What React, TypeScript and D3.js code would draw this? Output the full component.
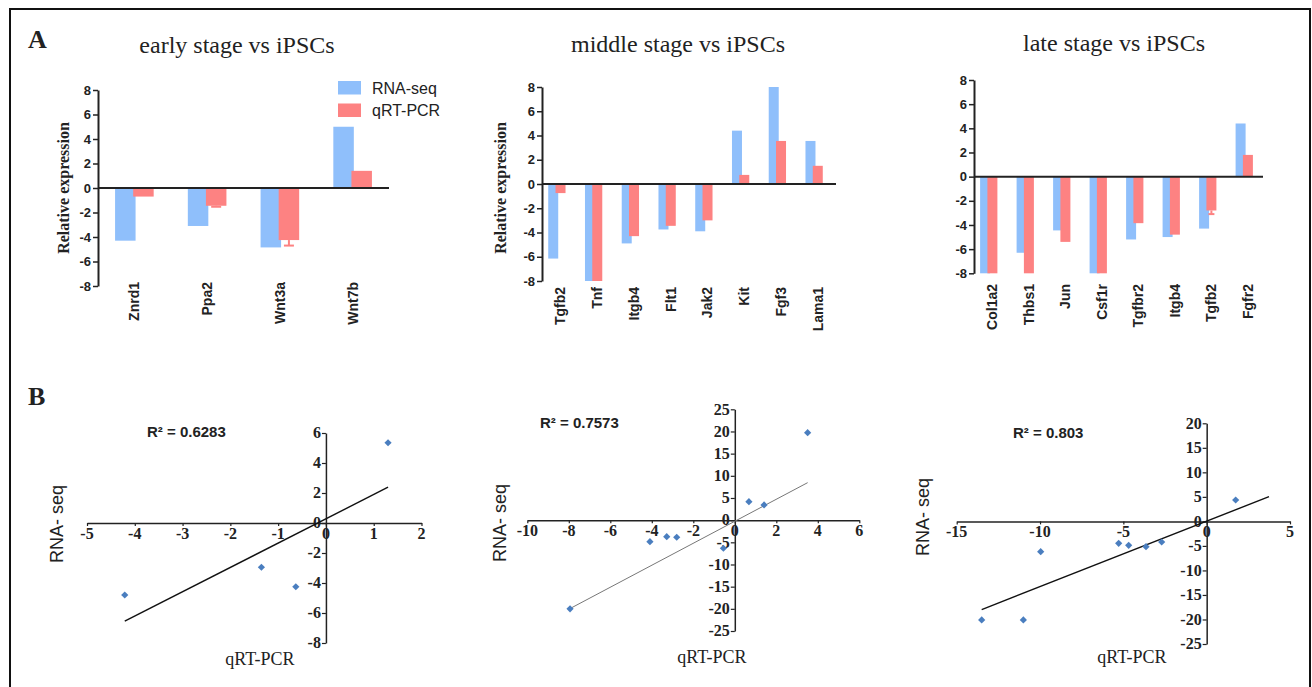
import React, { useEffect, useRef } from 'react';
import * as d3 from 'd3';

const SERIF = '"Liberation Serif", "Times New Roman", serif';
const SANS = '"Liberation Sans", Arial, sans-serif';
const BLUE = '#8fbffb';
const RED = '#fd8282';
const DOT = '#4a7ebf';

// ---- panel A : relative expression (bars clipped at +-8) ----
const earlyGenes = ['Znrd1', 'Ppa2', 'Wnt3a', 'Wnt7b'];
const earlyRna = [-4.3, -3.1, -4.85, 5.0];
const earlyQpcr = [-0.7, -1.45, -4.25, 1.4];
const earlyErr = [0, 0.08, 0.45, 0];

const middleGenes = ['Tgfb2', 'Tnf', 'Itgb4', 'Flt1', 'Jak2', 'Kit', 'Fgf3', 'Lama1'];
const middleRna = [-6.15, -8, -4.9, -3.75, -3.9, 4.4, 8, 3.55];
const middleQpcr = [-0.75, -8, -4.3, -3.45, -3.0, 0.75, 3.55, 1.5];
const middleErr = [0, 0, 0, 0, 0, 0, 0, 0];

const lateGenes = ['Col1a2', 'Thbs1', 'Jun', 'Csf1r', 'Tgfbr2', 'Itgb4', 'Tgfb2', 'Fgfr2'];
const lateRna = [-8, -6.3, -4.45, -8, -5.2, -5.0, -4.3, 4.4];
const lateQpcr = [-8, -8, -5.4, -8, -3.85, -4.8, -2.8, 1.8];
const lateErr = [0, 0, 0, 0, 0, 0, 0.3, 0];

const yTicksA = [8, 6, 4, 2, 0, -2, -4, -6, -8];
const seriesNames = ['RNA-seq', 'qRT-PCR'];

// ---- panel B : qRT-PCR (x) vs RNA-seq (y) ----
const earlyPcrX = [-4.21, -1.35, -0.63, 1.3];
const earlySeqY = [-4.8, -2.95, -4.25, 5.35];
const earlyFit = { slope: 1.62, intercept: 0.28, r2: '0.6283' };
const earlyXTicks = [-5, -4, -3, -2, -1, 0, 1, 2];
const earlyYTicks = [6, 4, 2, 0, -2, -4, -6, -8];

const middlePcrX = [-7.94, -4.09, -3.28, -2.8, -0.55, 0.68, 1.41, 3.51];
const middleSeqY = [-20.0, -4.85, -3.72, -3.86, -6.34, 4.17, 3.43, 19.73];
const middleFit = { slope: 2.48, intercept: -0.25, r2: '0.7573' };
const middleXTicks = [-10, -8, -6, -4, -2, 0, 2, 4, 6];
const middleYTicks = [25, 20, 15, 10, 5, 0, -5, -10, -15, -20, -25];

const latePcrX = [-13.5, -11.0, -9.96, -5.28, -4.68, -3.64, -2.7, 1.74];
const lateSeqY = [-20.1, -20.1, -6.18, -4.47, -4.87, -5.16, -4.2, 4.36];
const lateFit = { slope: 1.335, intercept: 0.05, r2: '0.803', xEnd: 3.74 };
const lateXTicks = [-15, -10, -5, 0, 5];
const lateYTicks = [20, 15, 10, 5, 0, -5, -10, -15, -20, -25];

const font = (sel, family, size, weight) =>
  sel.attr('font-family', family).attr('font-size', size).attr('font-weight', weight).attr('fill', '#222');

function drawBars(svg, p) {
  const g = svg.append('g');
  const y = d3.scaleLinear().domain([-8, 8]).range([p.bottom, p.top]).clamp(true);
  const x = d3.scaleBand().domain(p.genes).range([p.left, p.right]).paddingInner(0.4).paddingOuter(0.2);
  const groupW = p.barW * 2 - p.overlap;
  const cx = (d) => x(d) + x.bandwidth() / 2;
  const bx = (d) => cx(d) + p.shift - groupW / 2;

  const rows = p.genes.map((gene, i) => ({ gene, rna: p.rna[i], pcr: p.pcr[i], err: p.err[i] }));

  g.selectAll('rect.rna')
    .data(rows)
    .join('rect')
    .attr('class', 'rna')
    .attr('x', d => bx(d.gene))
    .attr('width', p.barW)
    .attr('y', d => Math.min(y(0), y(d.rna)))
    .attr('height', d => Math.abs(y(d.rna) - y(0)))
    .attr('fill', BLUE);

  g.selectAll('rect.pcr')
    .data(rows)
    .join('rect')
    .attr('class', 'pcr')
    .attr('x', d => bx(d.gene) + p.barW - p.overlap)
    .attr('width', p.barW)
    .attr('y', d => Math.min(y(0), y(d.pcr)))
    .attr('height', d => Math.abs(y(d.pcr) - y(0)))
    .attr('fill', RED);

  // error bars (away from zero)
  const errRows = rows.filter(d => d.err > 0);
  const ex = (d) => bx(d.gene) + p.barW - p.overlap + p.barW / 2;
  const eEnd = (d) => y(d.pcr + Math.sign(d.pcr) * d.err);
  g.selectAll('line.err')
    .data(errRows)
    .join('line')
    .attr('class', 'err')
    .attr('x1', ex).attr('x2', ex)
    .attr('y1', d => y(d.pcr)).attr('y2', eEnd)
    .attr('stroke', RED).attr('stroke-width', 2);
  g.selectAll('line.cap')
    .data(errRows)
    .join('line')
    .attr('class', 'cap')
    .attr('x1', d => ex(d) - p.cap / 2).attr('x2', d => ex(d) + p.cap / 2)
    .attr('y1', eEnd).attr('y2', eEnd)
    .attr('stroke', RED).attr('stroke-width', 2);

  // zero line
  g.append('line')
    .attr('x1', p.left).attr('x2', p.zeroEnd)
    .attr('y1', y(0)).attr('y2', y(0))
    .attr('stroke', '#222').attr('stroke-width', 2);

  // y axis (lines from d3, labels drawn below)
  const ax = g.append('g')
    .attr('transform', `translate(${p.left},0)`)
    .call(d3.axisLeft(y).tickValues(yTicksA).tickSize(5).tickSizeOuter(0).tickFormat(() => ''));
  ax.select('.domain').attr('stroke', '#222').attr('stroke-width', 2);
  ax.selectAll('.tick line').attr('stroke', '#222').attr('stroke-width', 1.5);

  font(g.selectAll('text.ytick')
    .data(yTicksA)
    .join('text')
    .attr('class', 'ytick')
    .attr('x', p.left - 7)
    .attr('y', d => y(d))
    .attr('dy', '0.35em')
    .attr('text-anchor', 'end')
    .text(d => String(d)), SANS, 13, 'bold');

  // category labels
  font(g.selectAll('text.cat')
    .data(p.genes)
    .join('text')
    .attr('class', 'cat')
    .attr('transform', d => `translate(${cx(d)},${p.labelTop}) rotate(-90)`)
    .attr('text-anchor', 'end')
    .attr('dy', '0.36em')
    .text(d => d), SANS, 14, 'bold');

  // title
  font(g.append('text')
    .attr('x', p.titleX).attr('y', p.titleY)
    .attr('text-anchor', 'middle')
    .text(p.title), SERIF, 24, 'normal');

  if (p.yLabelX) {
    font(g.append('text')
      .attr('transform', `translate(${p.yLabelX},${p.yLabelY}) rotate(-90)`)
      .attr('text-anchor', 'middle')
      .text('Relative expression'), SERIF, 16, 'bold');
  }

  if (p.legend) {
    const lg = g.append('g').attr('transform', `translate(${p.legend.x},${p.legend.y})`);
    lg.selectAll('rect')
      .data(seriesNames)
      .join('rect')
      .attr('x', 0).attr('y', (d, i) => i * 22.5)
      .attr('width', 23).attr('height', 13.5)
      .attr('fill', (d, i) => (i === 0 ? BLUE : RED));
    font(lg.selectAll('text')
      .data(seriesNames)
      .join('text')
      .attr('x', 34).attr('y', (d, i) => i * 22.5 + 12.5)
      .text(d => d), SANS, 16, 'normal');
  }
}

function drawScatter(svg, p) {
  const g = svg.append('g');
  const x = d3.scaleLinear().domain(p.xDomain).range(p.xRange);
  const y = d3.scaleLinear().domain(p.yDomain).range(p.yRange);

  const xa = g.append('g')
    .attr('transform', `translate(0,${y(0)})`)
    .call(d3.axisBottom(x).tickValues(p.xTicks).tickSize(3).tickSizeOuter(0).tickFormat(() => ''));
  xa.select('.domain').attr('stroke', '#222').attr('stroke-width', 1.5);
  xa.selectAll('.tick line').attr('stroke', '#222').attr('stroke-width', 1.2);

  const ya = g.append('g')
    .attr('transform', `translate(${x(0)},0)`)
    .call(d3.axisLeft(y).tickValues(p.yTicks).tickSize(4).tickSizeOuter(0).tickFormat(() => ''));
  ya.select('.domain').attr('stroke', '#222').attr('stroke-width', 1.5);
  ya.selectAll('.tick line').attr('stroke', '#222').attr('stroke-width', 1.2);

  font(g.selectAll('text.xtick')
    .data(p.xTicks)
    .join('text')
    .attr('class', 'xtick')
    .attr('x', d => x(d))
    .attr('y', y(0) + 16)
    .attr('text-anchor', 'middle')
    .text(d => String(d)), SERIF, 16, 'bold');

  font(g.selectAll('text.ytick')
    .data(p.yTicks)
    .join('text')
    .attr('class', 'ytick')
    .attr('x', x(0) - 5)
    .attr('y', d => y(d))
    .attr('dy', '0.33em')
    .attr('text-anchor', 'end')
    .text(d => String(d)), SERIF, 16, 'bold');

  // trend line
  const x0 = d3.min(p.xs);
  const x1 = p.fit.xEnd !== undefined ? p.fit.xEnd : d3.max(p.xs);
  const line = d3.line().x(d => x(d)).y(d => y(p.fit.slope * d + p.fit.intercept));
  g.append('path')
    .attr('d', line([x0, x1]))
    .attr('fill', 'none')
    .attr('stroke', p.lineColor)
    .attr('stroke-width', p.lineWidth);

  const sym = d3.symbol(d3.symbolSquare, 26);
  g.selectAll('path.pt')
    .data(p.xs.map((v, i) => [v, p.ys[i]]))
    .join('path')
    .attr('class', 'pt')
    .attr('d', sym())
    .attr('transform', d => `translate(${x(d[0])},${y(d[1])}) rotate(45)`)
    .attr('fill', DOT);

  font(g.append('text')
    .attr('x', p.r2X).attr('y', p.r2Y)
    .text(`R² = ${p.fit.r2}`), SANS, 15, 'bold');

  font(g.append('text')
    .attr('transform', `translate(${p.yLabelX},${p.yLabelY}) rotate(-90)`)
    .attr('text-anchor', 'middle')
    .text('RNA- seq'), SANS, 18, 'normal');

  font(g.append('text')
    .attr('x', p.xLabelX).attr('y', p.xLabelY)
    .attr('text-anchor', 'middle')
    .text('qRT-PCR'), SERIF, 18, 'normal');
}

const App = () => {
  const ref = useRef(null);

  useEffect(() => {
    const svg = d3.select(ref.current);
    svg.selectAll('*').remove();

    svg.append('rect')
      .attr('x', 10).attr('y', 9).attr('width', 1300).attr('height', 700)
      .attr('fill', 'white').attr('stroke', '#111').attr('stroke-width', 2);

    font(svg.append('text').attr('x', 28).attr('y', 48).text('A'), SERIF, 26, 'bold');
    font(svg.append('text').attr('x', 28).attr('y', 405).text('B'), SERIF, 26, 'bold');

    drawBars(svg, {
      genes: earlyGenes, rna: earlyRna, pcr: earlyQpcr, err: earlyErr,
      left: 98, right: 389, zeroEnd: 389, top: 90, bottom: 286, labelTop: 282,
      barW: 20.5, overlap: 2.4, shift: 0, cap: 10,
      title: 'early stage vs iPSCs', titleX: 237, titleY: 53,
      yLabelX: 69, yLabelY: 188,
      legend: { x: 338, y: 81 },
    });
    drawBars(svg, {
      genes: middleGenes, rna: middleRna, pcr: middleQpcr, err: middleErr,
      left: 542, right: 836, zeroEnd: 836, top: 87, bottom: 281, labelTop: 287,
      barW: 10, overlap: 2.7, shift: -3.5, cap: 6,
      title: 'middle stage vs iPSCs', titleX: 678, titleY: 52,
      yLabelX: 506, yLabelY: 188,
    });
    drawBars(svg, {
      genes: lateGenes, rna: lateRna, pcr: lateQpcr, err: lateErr,
      left: 974, right: 1266, zeroEnd: 1263, top: 80, bottom: 273.3, labelTop: 284,
      barW: 10, overlap: 2.7, shift: -3.5, cap: 6,
      title: 'late stage vs iPSCs', titleX: 1114, titleY: 51,
    });

    drawScatter(svg, {
      xs: earlyPcrX, ys: earlySeqY, fit: earlyFit,
      xDomain: [-5, 2], xRange: [87, 421.5], yDomain: [-8, 6], yRange: [643, 433],
      xTicks: earlyXTicks, yTicks: earlyYTicks,
      lineColor: '#111', lineWidth: 1.4,
      r2X: 147, r2Y: 437, yLabelX: 63, yLabelY: 524, xLabelX: 260, xLabelY: 665,
    });
    drawScatter(svg, {
      xs: middlePcrX, ys: middleSeqY, fit: middleFit,
      xDomain: [-10, 6], xRange: [527.3, 859.3], yDomain: [-25, 25], yRange: [631, 409.3],
      xTicks: middleXTicks, yTicks: middleYTicks,
      lineColor: '#777', lineWidth: 1,
      r2X: 540, r2Y: 428, yLabelX: 506, yLabelY: 523, xLabelX: 712, xLabelY: 663,
    });
    drawScatter(svg, {
      xs: latePcrX, ys: lateSeqY, fit: lateFit,
      xDomain: [-15, 5], xRange: [956.7, 1290], yDomain: [-25, 20], yRange: [644, 423.3],
      xTicks: lateXTicks, yTicks: lateYTicks,
      lineColor: '#111', lineWidth: 1.4,
      r2X: 1013, r2Y: 438, yLabelX: 929, yLabelY: 517, xLabelX: 1132, xLabelY: 663,
    });
  }, []);

  return (
    <svg
      ref={ref}
      width={1312}
      height={687}
      style={{ position: 'absolute', left: 0, top: 0, background: 'white' }}
    />
  );
};

export default App;
